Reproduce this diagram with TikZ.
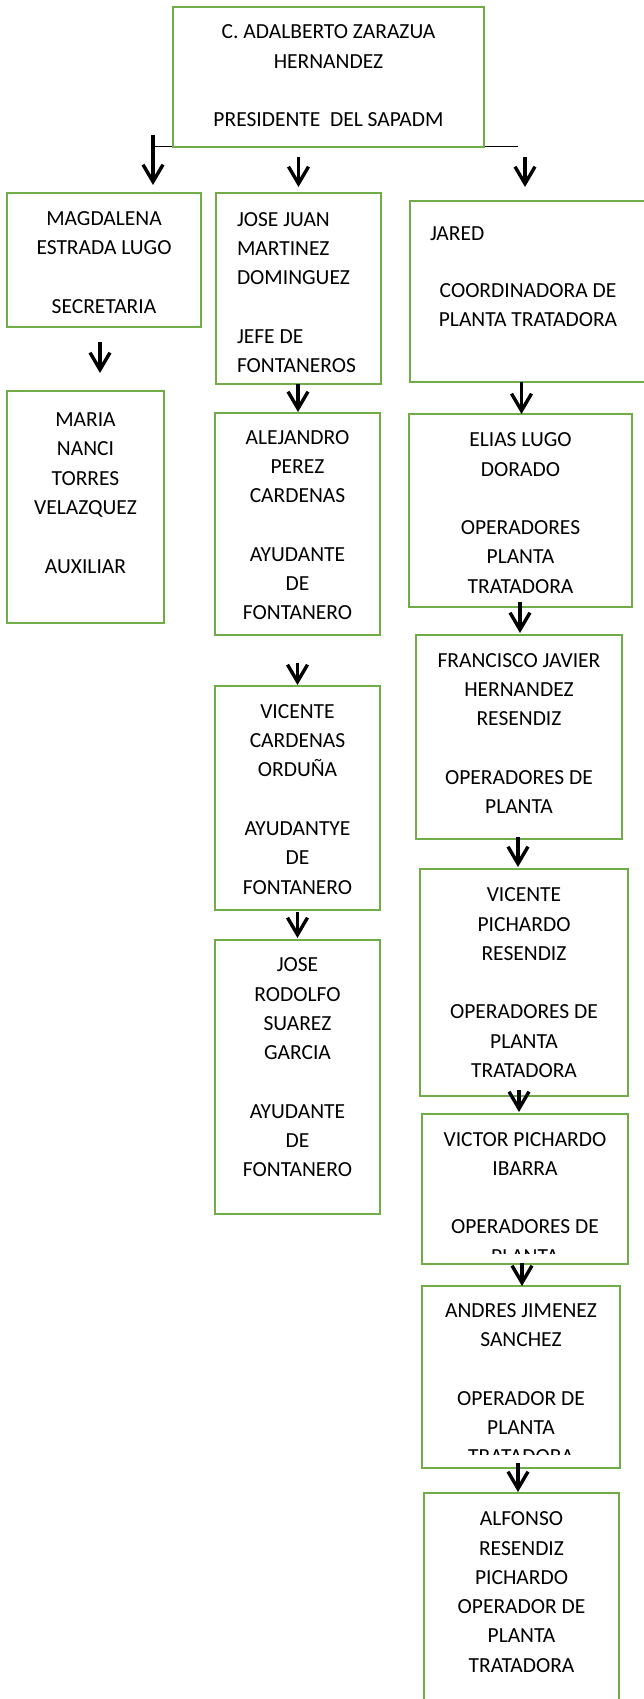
\documentclass[tikz,border=0pt]{standalone}
\usepackage{fontspec}
\setmainfont{Carlito}
\usetikzlibrary{arrows.meta}
\definecolor{boxgreen}{RGB}{112,173,71}
\begin{document}
\begin{tikzpicture}[x=1pt,y=-1pt,
  box/.style={draw=boxgreen, line width=2pt, anchor=north west, inner sep=0pt, outer sep=0pt},
  txt/.style={inner sep=0pt, outer sep=0pt, anchor=base, font=\fontsize{21.5}{29.3}\selectfont},
  arr/.style={draw=black, line width=3.4pt, -{Straight Barb[length=17pt,width=20pt]}},
  hline/.style={draw=black, line width=1pt}]
\clip (0,0) rectangle (644,1699);
\useasboundingbox (0,0) rectangle (644,1699);

% connector line under the top box
\coordinate (t1) at (153,147);
\coordinate (t3) at (525,147);
\coordinate (hr) at (518,147);
\draw[hline] (t1) -- (hr);

% boxes
\node[box, minimum width=311pt, minimum height=140pt] (pres) at (173,7) {};
\node[box, minimum width=194pt, minimum height=134pt] (mag) at (7,193) {};
\node[box, minimum width=157pt, minimum height=232pt] (maria) at (7,391) {};
\node[box, minimum width=165pt, minimum height=191pt] (jj) at (216,193) {};
\node[box, minimum width=165pt, minimum height=222pt] (ale) at (215,413) {};
\node[box, minimum width=165pt, minimum height=224pt] (vc) at (215,686) {};
\node[box, minimum width=165pt, minimum height=274pt] (jr) at (215,940) {};
\node[box, minimum width=236pt, minimum height=181pt] (jared) at (410,201) {};
\node[box, minimum width=223pt, minimum height=193pt] (elias) at (409,414) {};
\node[box, minimum width=206pt, minimum height=204pt] (fran) at (416,635) {};
\node[box, minimum width=208pt, minimum height=227pt] (vp) at (420,869) {};
\node[box, minimum width=206pt, minimum height=150pt] (vic) at (422,1114) {};
\node[box, minimum width=198pt, minimum height=182pt] (and) at (422,1286) {};
\node[box, minimum width=195pt, minimum height=230pt] (alf) at (424,1493) {};

% texts
\node[txt] (pres-t) at ([yshift=-32pt]pres.north) {\parbox[t]{300pt}{\centering C. ADALBERTO ZARAZUA\\HERNANDEZ\\[\baselineskip]PRESIDENTE~~DEL SAPADM}};
\node[txt] (mag-t) at ([yshift=-32.5pt]mag.north) {\parbox[t]{190pt}{\centering MAGDALENA\\ESTRADA LUGO\\[\baselineskip]SECRETARIA}};
\node[txt] (maria-t) at ([yshift=-35.5pt]maria.north) {\parbox[t]{155pt}{\centering MARIA\\NANCI\\TORRES\\VELAZQUEZ\\[\baselineskip]AUXILIAR}};
\node[txt, anchor=base west] (jj-t) at ([xshift=21pt,yshift=-33pt]jj.north west) {\parbox[t]{150pt}{\raggedright JOSE JUAN\\MARTINEZ\\DOMINGUEZ\\[\baselineskip]JEFE DE\\FONTANEROS}};
\node[txt] (ale-t) at ([yshift=-31pt]ale.north) {\parbox[t]{160pt}{\centering ALEJANDRO\\PEREZ\\CARDENAS\\[\baselineskip]AYUDANTE\\DE\\FONTANERO}};
\node[txt] (vc-t) at ([yshift=-32.3pt]vc.north) {\parbox[t]{160pt}{\centering VICENTE\\CARDENAS\\ORDUÑA\\[\baselineskip]AYUDANTYE\\DE\\FONTANERO}};
\node[txt] (jr-t) at ([yshift=-31.7pt]jr.north) {\parbox[t]{160pt}{\centering JOSE\\RODOLFO\\SUAREZ\\GARCIA\\[\baselineskip]AYUDANTE\\DE\\FONTANERO}};
\node[txt, anchor=base west] (jared-n) at ([xshift=20pt,yshift=-39.7pt]jared.north west) {JARED};
\node[txt] (jared-r) at ([yshift=-96.3pt]jared.north) {\parbox[t]{230pt}{\centering COORDINADORA DE\\PLANTA TRATADORA}};
\node[txt] (elias-t) at ([yshift=-32.7pt]elias.north) {\parbox[t]{220pt}{\centering ELIAS LUGO\\DORADO\\[\baselineskip]OPERADORES\\PLANTA\\TRATADORA}};
\node[txt] (fran-t) at ([yshift=-32.3pt]fran.north) {\parbox[t]{200pt}{\centering FRANCISCO JAVIER\\HERNANDEZ\\RESENDIZ\\[\baselineskip]OPERADORES DE\\PLANTA}};
\node[txt] (vp-t) at ([yshift=-32.7pt]vp.north) {\parbox[t]{200pt}{\centering VICENTE\\PICHARDO\\RESENDIZ\\[\baselineskip]OPERADORES DE\\PLANTA\\TRATADORA}};
\begin{scope}
\clip (422,1114) rectangle (628,1253);
\node[txt] (vic-t) at ([yshift=-32pt]vic.north) {\parbox[t]{200pt}{\centering VICTOR PICHARDO\\IBARRA\\[\baselineskip]OPERADORES DE\\PLANTA}};
\end{scope}
\begin{scope}
\clip (422,1286) rectangle (620,1454);
\node[txt] (and-t) at ([yshift=-31.3pt]and.north) {\parbox[t]{195pt}{\centering ANDRES JIMENEZ\\SANCHEZ\\[\baselineskip]OPERADOR DE\\PLANTA\\TRATADORA}};
\end{scope}
\node[txt] (alf-t) at ([yshift=-32.7pt]alf.north) {\parbox[t]{190pt}{\centering ALFONSO\\RESENDIZ\\PICHARDO\\OPERADOR DE\\PLANTA\\TRATADORA}};

% arrows
\draw[arr, shorten <=-12pt, shorten >=8pt] (t1) -- (t1 |- mag.north);
\draw[arr, shorten <=10pt, shorten >=6pt] (pres.south -| jj.north) -- (jj.north);
\draw[arr, shorten <=10pt, shorten >=14pt] (t3) -- (t3 |- jared.north);
\draw[arr, shorten <=15pt, shorten >=18pt] ([xshift=-4pt]mag.south) -- ([xshift=14.5pt]maria.north);
\draw[arr, shorten >=1pt] ([xshift=-0.5pt]jj.south) -- ([xshift=0.5pt]ale.north);
\draw[arr, shorten <=28pt, shorten >=1pt] (ale.south) -- (vc.north);
\draw[arr, shorten <=2pt, shorten >=2pt] (vc.south) -- (jr.north);
\draw[arr] ([xshift=-6.5pt]jared.south) -- ([xshift=1pt]elias.north);
\draw[arr, shorten <=-5pt, shorten >=2pt] ([xshift=-0.5pt]elias.south) -- ([xshift=1pt]fran.north);
\draw[arr, shorten <=-2pt, shorten >=2pt] ([xshift=-1pt]fran.south) -- ([xshift=-6pt]vp.north);
\draw[arr, shorten <=-6pt, shorten >=2pt] ([xshift=-5pt]vp.south) -- ([xshift=-6pt]vic.north);
\draw[arr, shorten <=-1pt] ([xshift=-3pt]vic.south) -- ([xshift=1pt]and.north);
\draw[arr, shorten <=-5pt, shorten >=1pt] ([xshift=-3pt]and.south) -- ([xshift=-3.5pt]alf.north);
\end{tikzpicture}
\end{document}
